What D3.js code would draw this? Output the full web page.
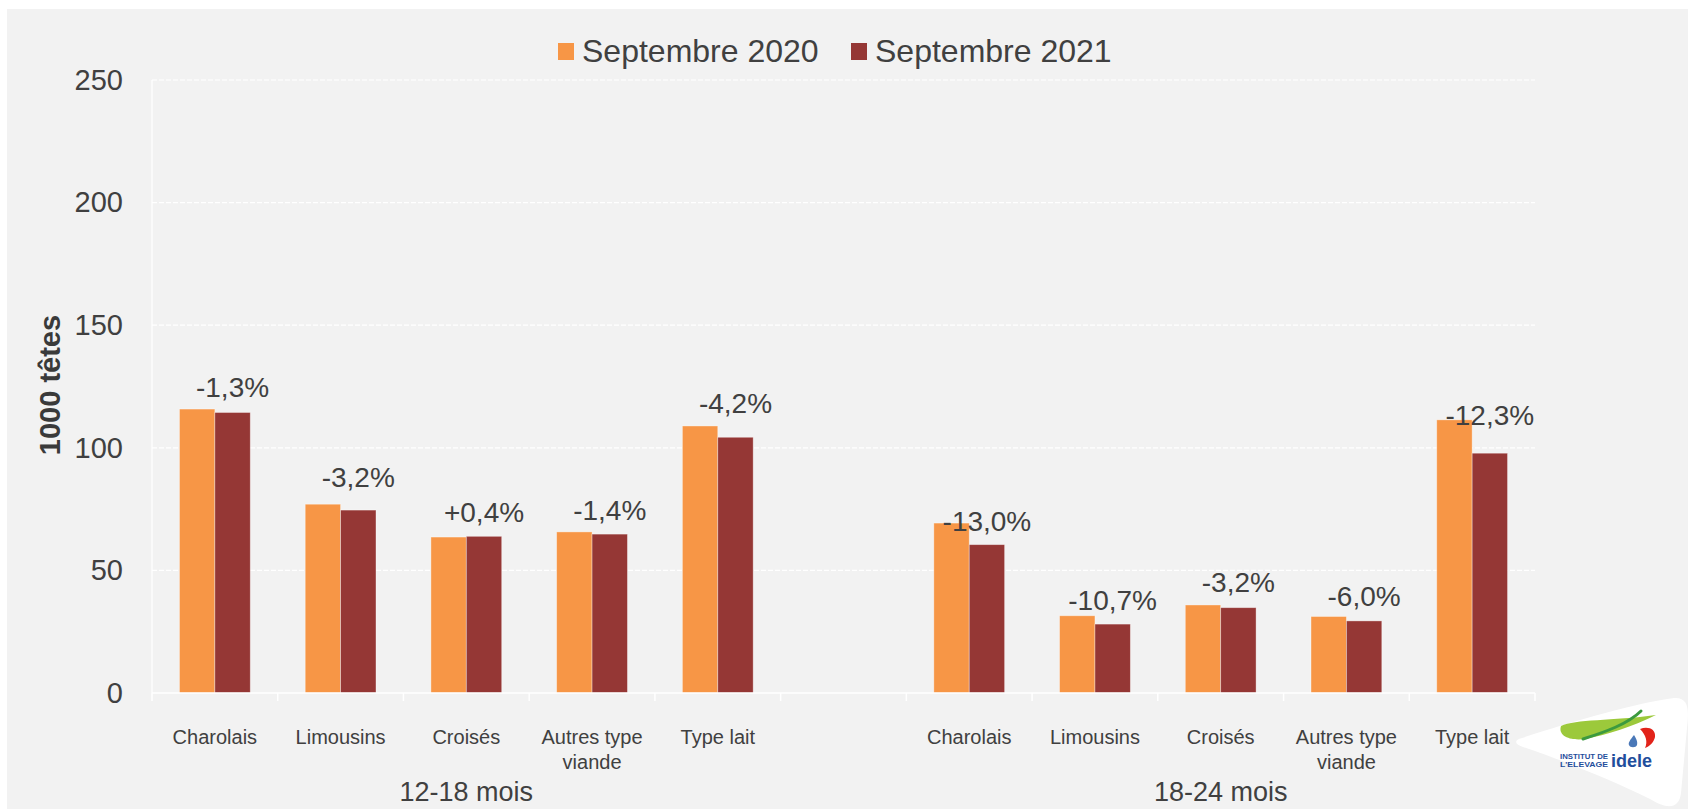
<!DOCTYPE html>
<html>
<head>
<meta charset="utf-8">
<script src="https://cdn.jsdelivr.net/npm/d3@7"></script>
<style>
	html, body { margin: 0; padding: 0; background: #fff; }
	svg { display: block; }
	text { font-family: "Century Gothic", "Liberation Sans", Arial, sans-serif; }
</style>
</head>
<body>
<svg id="chart" width="1688" height="809"></svg>
<script>

// Data

var groups = ["12-18 mois", "18-24 mois"];
var breeds = ["Charolais", "Limousins", "Croisés", "Autres type viande", "Type lait"];
var seriesNames = ["Septembre 2020", "Septembre 2021"];

// 1000 têtes, 12-18 mois then 18-24 mois
var sept2020 = [115.8, 77.0, 63.6, 65.7, 108.9, 69.3, 31.5, 35.9, 31.2, 111.4];
var sept2021 = [114.4, 74.6, 63.9, 64.8, 104.3, 60.5, 28.1, 34.8, 29.4, 97.8];

var changeLabels = ["-1,3%", "-3,2%", "+0,4%", "-1,4%", "-4,2%", "-13,0%", "-10,7%", "-3,2%", "-6,0%", "-12,3%"];
// height (1000 têtes) where each change label sits
var labelLevels = [124.4, 87.7, 73.6, 74.6, 118.0, 69.9, 37.9, 45.2, 39.2, 113.0];

var yTicks = [0, 50, 100, 150, 200, 250];

var colors = ["#f79646", "#953735"];
var textColor = "#404040";

// Slots : 5 breeds, one empty slot, 5 breeds

var slots = [];
var rows = [];

groups.forEach(function (g, gi) {
	if(gi > 0) {
		slots.push("gap" + gi);
	}
	breeds.forEach(function (b, bi) {
		var key = g + "|" + b;
		var i = gi * breeds.length + bi;
		slots.push(key);
		rows.push({
			key : key,
			group : g,
			breed : b,
			values : [sept2020[i], sept2021[i]],
			label : changeLabels[i],
			level : labelLevels[i]
		});
	});
});

var svg = d3.select("#chart");

svg.append("rect")
.attr("x", 7)
.attr("y", 9)
.attr("width", 1681)
.attr("height", 800)
.attr("fill", "#f2f2f2");

var x = d3.scaleBand()
.domain(slots)
.range([152, 1535])
.padding(0);

var x1 = d3.scaleBand()
.domain(seriesNames)
.range([0, x.bandwidth()])
.paddingInner(0)
.paddingOuter(0.776);

var y = d3.scaleLinear()
.domain([0, 250])
.range([693, 80]);

// Grid

svg.append("g")
.selectAll("line")
.data(yTicks.filter(function (t) { return t > 0; }))
.enter().append("line")
.attr("x1", 152)
.attr("x2", 1535)
.attr("y1", function (d) { return y(d); })
.attr("y2", function (d) { return y(d); })
.attr("stroke", "#ffffff")
.attr("stroke-width", 1.2)
.attr("stroke-dasharray", "5,2");

svg.append("line")
.attr("x1", 152)
.attr("x2", 152)
.attr("y1", y(250))
.attr("y2", y(0))
.attr("stroke", "#ffffff")
.attr("stroke-width", 1.2);

// Y axis

var yAxis = svg.append("g")
.attr("transform", "translate(152,0)")
.call(d3.axisLeft(y).tickValues(yTicks).tickSize(0).tickPadding(29));

yAxis.select(".domain").remove();

yAxis.selectAll("text")
.attr("fill", textColor)
.style("font-size", "29px");

svg.append("text")
.attr("transform", "translate(50,385) rotate(-90)")
.attr("text-anchor", "middle")
.attr("dominant-baseline", "central")
.attr("fill", "#3a3a3a")
.style("font-size", "29px")
.style("font-weight", "bold")
.text("1000 têtes");

// Bars

var cats = svg.append("g")
.selectAll("g")
.data(rows)
.enter().append("g")
.attr("transform", function (d) { return "translate(" + x(d.key) + ",0)"; });

cats.selectAll("rect")
.data(function (d) {
	return d.values.map(function (v, i) { return {name : seriesNames[i], value : v, i : i}; });
})
.enter().append("rect")
.attr("x", function (d) { return x1(d.name); })
.attr("width", x1.bandwidth())
.attr("y", function (d) { return y(d.value); })
.attr("height", function (d) { return y(0) - y(d.value); })
.attr("fill", function (d) { return colors[d.i]; })
.attr("stroke", "rgba(255,255,255,0.45)")
.attr("stroke-width", 0.8);

cats.append("text")
.attr("x", x1(seriesNames[1]) + x1.bandwidth() / 2)
.attr("y", function (d) { return y(d.level); })
.attr("text-anchor", "middle")
.attr("dominant-baseline", "central")
.attr("fill", textColor)
.style("font-size", "28px")
.text(function (d) { return d.label; });

// X axis

svg.append("line")
.attr("x1", 152)
.attr("x2", 1535)
.attr("y1", y(0))
.attr("y2", y(0))
.attr("stroke", "#ffffff")
.attr("stroke-width", 1.5);

var boundaries = slots.map(function (s) { return x(s); }).concat([x.range()[1]]);

svg.append("g")
.selectAll("line")
.data(boundaries)
.enter().append("line")
.attr("x1", function (d) { return d; })
.attr("x2", function (d) { return d; })
.attr("y1", y(0))
.attr("y2", y(0) + 8)
.attr("stroke", "#ffffff")
.attr("stroke-width", 1.5);

var catLabels = svg.append("g")
.selectAll("text")
.data(rows)
.enter().append("text")
.attr("x", function (d) { return x(d.key) + x.bandwidth() / 2; })
.attr("y", 737)
.attr("text-anchor", "middle")
.attr("fill", textColor)
.style("font-size", "20px");

catLabels.each(function (d) {
	var words = d.breed == "Autres type viande" ? ["Autres type", "viande"] : [d.breed];
	var t = d3.select(this);
	words.forEach(function (w, i) {
		t.append("tspan")
		.attr("x", x(d.key) + x.bandwidth() / 2)
		.attr("dy", i == 0 ? "0.35em" : "1.25em")
		.text(w);
	});
});

svg.append("g")
.selectAll("text")
.data(groups)
.enter().append("text")
.attr("x", function (g) {
	var first = x(g + "|" + breeds[0]);
	var last = x(g + "|" + breeds[breeds.length - 1]) + x.bandwidth();
	return (first + last) / 2;
})
.attr("y", 792)
.attr("dy", "0.35em")
.attr("text-anchor", "middle")
.attr("fill", textColor)
.style("font-size", "27px")
.text(function (g) { return g; });

// Legend

var legend = svg.append("g")
.selectAll("g")
.data(seriesNames)
.enter().append("g")
.attr("transform", function (d, i) { return "translate(" + (558 + i * 293) + ",0)"; });

legend.append("rect")
.attr("x", 0)
.attr("y", 43)
.attr("width", 16)
.attr("height", 17)
.attr("fill", function (d, i) { return colors[i]; });

legend.append("text")
.attr("x", 24)
.attr("y", 51)
.attr("dy", "0.35em")
.attr("fill", textColor)
.style("font-size", "32px")
.text(function (d) { return d; });

// Logo idele

var logo = svg.append("g");

logo.append("path")
.attr("d", "M1522,738 C1570,722 1640,702 1674,698 C1689,697 1689,710 1687,728 L1681,793 C1679,810 1666,809 1650,799 C1605,777 1556,758 1523,747 C1514,744 1514,740 1522,738 Z")
.attr("fill", "#ffffff");

logo.append("path")
.attr("d", "M1561,726 C1575,719 1612,721 1656,715 C1632,727 1606,735 1585,739 C1568,741 1558,735 1561,726 Z")
.attr("fill", "#9cc93b");

logo.append("path")
.attr("d", "M1583,739 C1605,732 1628,724 1641,711")
.attr("fill", "none")
.attr("stroke", "#3c9a3f")
.attr("stroke-width", 3)
.attr("stroke-linecap", "round");

logo.append("path")
.attr("d", "M1640,729 C1648,726 1656,729 1655,737 C1654,742 1650,746 1645,748 C1648,742 1646,735 1640,729 Z")
.attr("fill", "#e2231a");

logo.append("path")
.attr("d", "M1634,735 C1630,740 1628,743 1629,745 C1630,748 1636,748 1637,745 C1638,742 1636,738 1634,735 Z")
.attr("fill", "#4a78b8");

logo.append("text")
.attr("x", 1560)
.attr("y", 759)
.attr("textLength", 48)
.attr("lengthAdjust", "spacingAndGlyphs")
.attr("fill", "#1f4e9c")
.style("font-size", "8px")
.style("font-weight", "bold")
.text("INSTITUT DE");

logo.append("text")
.attr("x", 1560)
.attr("y", 767)
.attr("textLength", 48)
.attr("lengthAdjust", "spacingAndGlyphs")
.attr("fill", "#1f4e9c")
.style("font-size", "8px")
.style("font-weight", "bold")
.text("L'ELEVAGE");

logo.append("text")
.attr("x", 1611)
.attr("y", 767)
.attr("fill", "#1f4e9c")
.style("font-size", "18px")
.style("font-weight", "bold")
.text("idele");

</script>
</body>
</html>
